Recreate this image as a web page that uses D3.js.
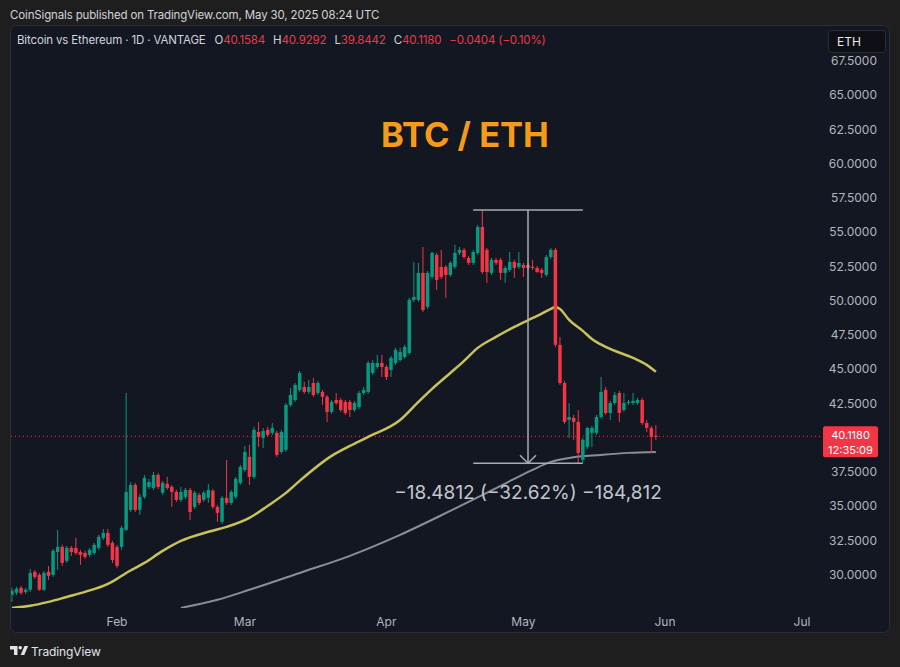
<!DOCTYPE html>
<html>
<head>
<meta charset="utf-8">
<script src="https://cdn.jsdelivr.net/npm/d3@7"></script>
<style>
    body { margin: 0; background: #1e1e1e; }
    svg { display: block; font-family: Inter, 'Noto Sans', sans-serif; }
</style>
</head>
<body>
<svg id="chart" width="900" height="667"></svg>
<script>
'use strict';

// daily candles, first one on 2025-01-09
var startDay = Date.UTC(2025, 0, 9)
var opens = [
    28.55, 28.70, 29.06, 28.77, 28.92, 30.23, 30.01, 28.92, 30.23, 30.01,
    31.68, 32.05, 31.03, 31.98, 31.98, 31.68, 31.61, 31.47, 31.61, 31.98,
    32.71, 33.07, 32.34, 32.05, 32.05, 33.29, 34.75, 36.57, 34.75, 35.70,
    36.43, 36.35, 37.30, 36.00, 36.65, 36.43, 36.06, 35.48, 35.70, 36.21,
    34.97, 35.84, 35.48, 35.63, 36.14, 34.97, 33.88, 35.63, 35.26, 35.70,
    36.72, 37.67, 38.62, 37.16, 40.44, 40.00, 40.59, 40.37, 40.37, 38.98,
    39.13, 42.41, 42.77, 43.50, 43.72, 43.36, 44.01, 43.28, 43.36, 43.00,
    41.90, 42.77, 42.77, 42.63, 42.63, 42.04, 42.26, 43.28, 43.36, 44.74,
    45.18, 45.47, 45.18, 44.96, 45.47, 45.69, 45.91, 46.20, 50.07, 50.07,
    52.04, 49.56, 51.75, 53.35, 52.48, 52.48, 51.89, 52.48, 53.50, 53.72,
    53.13, 52.77, 53.50, 55.39, 53.72, 52.04, 52.99, 52.99, 52.04, 52.26,
    52.84, 52.48, 52.62, 52.62, 52.48, 52.40, 52.26, 51.89, 53.20, 53.72,
    46.79, 44.01, 41.31, 41.46, 41.17, 38.40, 39.35, 40.37, 40.37, 41.53,
    43.50, 41.82, 42.55, 43.28, 42.04, 42.55, 42.55, 42.55, 42.77, 41.09,
    40.73, 40.1584
]
var highs = [
    29.07, 29.14, 29.21, 29.06, 30.45, 30.37, 30.15, 30.30, 30.66, 31.90,
    33.29, 32.20, 32.12, 32.12, 32.71, 31.83, 31.76, 31.98, 32.34, 32.93,
    33.36, 33.36, 32.49, 32.20, 33.58, 43.28, 36.79, 36.72, 35.92, 37.30,
    37.01, 37.52, 37.45, 36.86, 37.16, 36.57, 36.21, 36.43, 36.35, 36.35,
    36.14, 35.99, 36.14, 36.65, 36.28, 35.11, 35.77, 38.40, 36.21, 37.16,
    38.03, 39.42, 39.49, 40.81, 41.17, 40.73, 40.81, 41.09, 40.51, 40.59,
    42.55, 43.65, 44.01, 44.89, 44.09, 44.23, 44.38, 44.16, 43.50, 43.14,
    42.77, 43.28, 42.92, 42.77, 42.77, 42.70, 43.43, 43.72, 45.62, 45.69,
    46.06, 46.06, 45.33, 45.98, 46.57, 46.57, 46.79, 50.22, 52.84, 52.77,
    53.93, 52.18, 53.57, 53.50, 53.72, 52.62, 52.91, 54.08, 53.93, 53.86,
    53.28, 53.72, 55.54, 56.63, 53.86, 53.13, 53.13, 53.13, 52.55, 53.57,
    52.99, 53.57, 52.77, 52.77, 52.99, 52.55, 52.40, 53.35, 53.86, 53.86,
    47.37, 44.16, 42.55, 41.68, 42.04, 40.00, 40.81, 40.88, 41.68, 44.45,
    43.72, 42.70, 43.36, 43.43, 43.28, 42.77, 43.28, 42.92, 42.92, 41.31,
    40.88, 40.9292
]
var lows = [
    28.04, 28.55, 28.55, 28.62, 28.77, 29.72, 28.84, 28.84, 29.64, 29.86,
    30.37, 30.66, 30.88, 31.39, 31.47, 30.74, 31.17, 31.32, 31.47, 31.83,
    32.56, 32.05, 30.88, 30.52, 31.83, 33.22, 34.60, 34.60, 34.39, 35.55,
    36.28, 36.21, 36.28, 35.84, 36.21, 34.97, 35.33, 35.33, 35.55, 34.02,
    34.82, 35.11, 35.33, 35.26, 34.82, 33.88, 33.73, 35.11, 35.11, 35.55,
    36.57, 37.52, 36.57, 37.01, 39.35, 39.27, 40.08, 40.22, 38.62, 38.84,
    38.98, 42.26, 42.63, 43.36, 43.21, 43.21, 43.00, 43.14, 42.41, 41.17,
    41.75, 42.41, 41.90, 41.68, 41.53, 41.90, 42.12, 43.14, 43.21, 44.60,
    45.03, 44.45, 44.23, 44.45, 45.33, 45.55, 45.77, 46.06, 49.92, 49.92,
    49.19, 49.41, 51.60, 50.80, 51.60, 50.22, 51.75, 52.33, 53.35, 53.06,
    52.62, 52.62, 53.35, 51.96, 51.31, 51.89, 52.62, 51.53, 51.31, 52.11,
    51.67, 52.33, 51.75, 52.26, 52.26, 52.04, 51.67, 51.75, 53.06, 46.64,
    43.87, 41.02, 40.00, 39.86, 38.15, 38.18, 39.20, 39.35, 40.22, 41.39,
    41.68, 41.31, 42.41, 41.17, 41.90, 42.41, 42.41, 42.41, 40.95, 40.44,
    38.91, 39.8442
]
var closes = [
    28.85, 29.00, 28.70, 28.92, 30.15, 29.86, 28.92, 30.15, 29.94, 31.76,
    32.05, 30.88, 31.98, 31.68, 31.61, 31.47, 31.32, 31.83, 32.20, 32.78,
    33.07, 32.20, 31.10, 30.66, 33.44, 36.06, 36.57, 34.75, 35.70, 37.09,
    36.79, 37.30, 36.43, 36.72, 36.35, 36.06, 35.48, 36.06, 36.21, 34.60,
    36.00, 35.26, 36.00, 36.21, 34.97, 34.53, 35.63, 35.26, 36.06, 37.01,
    37.89, 38.98, 37.16, 40.59, 40.08, 40.51, 40.22, 40.73, 38.76, 40.44,
    42.41, 43.14, 43.87, 44.74, 43.36, 43.72, 43.14, 44.01, 43.00, 41.90,
    42.63, 42.55, 42.04, 41.82, 42.04, 42.55, 43.28, 43.50, 45.47, 45.47,
    45.47, 45.18, 44.45, 45.84, 46.42, 46.28, 46.64, 50.07, 50.29, 52.04,
    49.34, 52.04, 53.50, 51.53, 51.75, 51.89, 52.77, 53.50, 53.72, 53.20,
    52.77, 53.57, 55.39, 52.11, 52.11, 52.99, 52.77, 52.04, 52.40, 52.84,
    52.40, 52.77, 52.40, 52.40, 52.40, 52.11, 52.04, 53.20, 53.72, 46.79,
    44.01, 41.17, 41.53, 41.17, 38.91, 39.86, 40.73, 40.73, 41.53, 43.36,
    41.82, 42.55, 43.14, 41.82, 42.55, 42.63, 42.70, 42.77, 41.09, 40.73,
    40.08, 40.1180
]

// moving averages (day index from startDay, value)
var smaFastDays = [0, 4, 8, 12, 16, 21, 23, 25, 29, 33, 37, 43, 47, 52, 56, 60, 63, 70, 74, 78,
    85, 89, 92, 96, 99, 102, 106, 110, 115, 118, 119, 120, 122, 125, 127, 130, 136, 139, 141]
var smaFastValues = [27.60, 27.75, 28.04, 28.40, 28.77, 29.35, 29.72, 30.15, 30.88, 31.76, 32.49, 33.15, 33.51, 34.17, 35.04, 35.99, 36.87, 38.69, 39.42, 40.08,
    41.31, 42.63, 43.58, 44.74, 45.62, 46.57, 47.37, 48.10, 48.90, 49.41, 49.56, 49.41, 48.61, 47.81, 47.22, 46.64, 45.84, 45.33, 44.82]
var smaSlowDays = [37, 45, 52, 63, 74, 85, 96, 107, 114, 118, 122, 129, 135, 141]
var smaSlowValues = [27.60, 28.19, 28.92, 30.15, 31.40, 32.93, 34.68, 36.50, 37.67, 38.25, 38.54, 38.76, 38.91, 38.98]

var priceTicks = [30, 32.5, 35, 37.5, 40, 42.5, 45, 47.5, 50, 52.5, 55, 57.5, 60, 62.5, 65, 67.5]
var monthTicks = [Date.UTC(2025, 1, 1), Date.UTC(2025, 2, 1), Date.UTC(2025, 3, 1), Date.UTC(2025, 4, 1), Date.UTC(2025, 5, 1), Date.UTC(2025, 6, 1)]
var monthLabels = ['Feb', 'Mar', 'Apr', 'May', 'Jun', 'Jul']

// measure tool anchors
var measureDays = [101, 125]
var measurePrices = [56.63, 38.15]
var measureText = '\u221218.4812 (\u221232.62%) \u2212184,812'

var lastPrice = 40.1180
var countdown = '12:35:09'

var up = '#089981', down = '#f23645'
var dayMs = 864e5

var svg = d3.select('#chart')
var x = d3.scaleUtc().domain([monthTicks[0], monthTicks[5]]).range([117, 802])
var y = d3.scaleLinear().domain([30, 67.5]).range([575, 61])
var dayX = function(i) { return x(new Date(startDay + i * dayMs)) }

// panel
svg.append('rect').attr('x', 10.5).attr('y', 25.5).attr('width', 879).attr('height', 607)
    .attr('rx', 6).attr('fill', '#131722').attr('stroke', '#2a2e39')

svg.append('text').attr('x', 10).attr('y', 19).attr('fill', '#d1d4dc')
    .style('font-size', '11.5px').style('letter-spacing', '-0.15px')
    .text('CoinSignals published on TradingView.com, May 30, 2025 08:24 UTC')

svg.append('defs').append('clipPath').attr('id', 'plot')
    .append('rect').attr('x', 11).attr('y', 26).attr('width', 811).attr('height', 582)

var plot = svg.append('g').attr('clip-path', 'url(#plot)')

// current price line
plot.append('line').attr('x1', 11).attr('x2', 822)
    .attr('y1', y(lastPrice)).attr('y2', y(lastPrice))
    .attr('stroke', down).attr('stroke-width', 1).attr('stroke-dasharray', '1,3')

// moving averages
var maLine = d3.line().x(function(d) { return dayX(d[0]) }).y(function(d) { return y(d[1]) })
    .curve(d3.curveMonotoneX)
plot.append('path').datum(d3.zip(smaSlowDays, smaSlowValues)).attr('d', maLine)
    .attr('fill', 'none').attr('stroke', '#8b8e96').attr('stroke-width', 2)
plot.append('path').datum(d3.zip(smaFastDays, smaFastValues)).attr('d', maLine)
    .attr('fill', 'none').attr('stroke', '#c9c25a').attr('stroke-width', 2.5)

// candles
var candles = plot.append('g').selectAll('g').data(d3.range(opens.length)).join('g')
    .attr('fill', function(i) { return closes[i] >= opens[i] ? up : down })
    .attr('stroke', function(i) { return closes[i] >= opens[i] ? up : down })
candles.append('line')
    .attr('x1', function(i) { return dayX(i) }).attr('x2', function(i) { return dayX(i) })
    .attr('y1', function(i) { return y(highs[i]) }).attr('y2', function(i) { return y(lows[i]) })
    .attr('stroke-width', 1)
candles.append('rect')
    .attr('x', function(i) { return dayX(i) - 1.75 }).attr('width', 3.5)
    .attr('y', function(i) { return y(Math.max(opens[i], closes[i])) })
    .attr('height', function(i) { return Math.max(1, Math.abs(y(opens[i]) - y(closes[i]))) })
    .attr('stroke', 'none')

// measure tool
var mx0 = dayX(measureDays[0]), mx1 = dayX(measureDays[1]), mxc = (mx0 + mx1) / 2
var my0 = y(measurePrices[0]), my1 = y(measurePrices[1])
var measure = plot.append('g').attr('stroke', '#a9acb5').attr('stroke-width', 1.5).attr('fill', 'none')
measure.append('line').attr('x1', mx0).attr('x2', mx1).attr('y1', my0).attr('y2', my0)
measure.append('line').attr('x1', mx0).attr('x2', mx1).attr('y1', my1).attr('y2', my1)
measure.append('line').attr('x1', mxc).attr('x2', mxc).attr('y1', my0).attr('y2', my1)
measure.append('path').attr('d', 'M' + (mxc - 8) + ',' + (my1 - 8) + 'L' + mxc + ',' + my1 + 'L' + (mxc + 8) + ',' + (my1 - 8))
plot.append('text').attr('x', mxc).attr('y', my1 + 36).attr('text-anchor', 'middle')
    .attr('fill', '#c3c6ce').style('font-size', '19px').text(measureText)

// title
svg.append('text').attr('x', 465).attr('y', 147).attr('text-anchor', 'middle')
    .attr('fill', '#f59b1c').style('font-size', '34.5px').style('font-weight', 700).text('BTC / ETH')

// legend
var legend = svg.append('text').attr('x', 17).attr('y', 44).attr('fill', '#d1d4dc')
    .style('font-size', '11.5px').style('letter-spacing', '-0.15px')
legend.append('tspan').text('Bitcoin vs Ethereum \u00b7 1D \u00b7 VANTAGE')
var ohlc = [['O', '40.1584'], ['H', '40.9292'], ['L', '39.8442'], ['C', '40.1180']]
ohlc.forEach(function(d, k) {
    legend.append('tspan').attr('dx', k == 0 ? 9 : 8).text(d[0])
    legend.append('tspan').attr('fill', down).text(d[1])
})
legend.append('tspan').attr('dx', 8).attr('fill', down).text('\u22120.0404 (\u22120.10%)')

// price axis
var tickLabels = priceTicks.filter(function(v) { return Math.abs(y(v) - y(lastPrice)) > 14 })
svg.append('g').selectAll('text').data(tickLabels).join('text')
    .attr('x', 877).attr('y', function(v) { return y(v) + 4 }).attr('text-anchor', 'end')
    .attr('fill', '#b2b5be').style('font-size', '12px')
    .text(d3.format('.4f'))

// price tag
var tag = svg.append('g')
tag.append('rect').attr('x', 823).attr('y', y(lastPrice) - 10).attr('width', 55).attr('height', 31)
    .attr('rx', 2).attr('fill', down)
tag.append('text').attr('x', 850.5).attr('y', y(lastPrice) + 2.5).attr('text-anchor', 'middle')
    .attr('fill', '#fff').style('font-size', '11px').text(d3.format('.4f')(lastPrice))
tag.append('text').attr('x', 850.5).attr('y', y(lastPrice) + 17.5).attr('text-anchor', 'middle')
    .attr('fill', '#fff').style('font-size', '11px').text(countdown)

// symbol badge
svg.append('rect').attr('x', 828.5).attr('y', 30.5).attr('width', 57).attr('height', 22)
    .attr('rx', 3).attr('fill', '#0d0f14').attr('stroke', '#2a2e39')
svg.append('text').attr('x', 837).attr('y', 46).attr('fill', '#e6e8ee').style('font-size', '12px').text('ETH')

// time axis
svg.append('g').selectAll('text').data(monthTicks).join('text')
    .attr('x', function(d) { return x(d) }).attr('y', 626).attr('text-anchor', 'middle')
    .attr('fill', '#b2b5be').style('font-size', '12px')
    .text(function(d, i) { return monthLabels[i] })

// footer logo
var logo = svg.append('g').attr('fill', '#e0e3eb')
logo.append('path').attr('d', 'M10,646h7.5v9h-3.5v-5.5h-4z')
logo.append('circle').attr('cx', 20.2).attr('cy', 647.8).attr('r', 1.8)
logo.append('path').attr('d', 'M24.5,646h3.6l-3.8,9h-3.6z')
svg.append('text').attr('x', 31).attr('y', 656).attr('fill', '#e0e3eb')
    .style('font-size', '12px').style('letter-spacing', '-0.1px').text('TradingView')
</script>
</body>
</html>
